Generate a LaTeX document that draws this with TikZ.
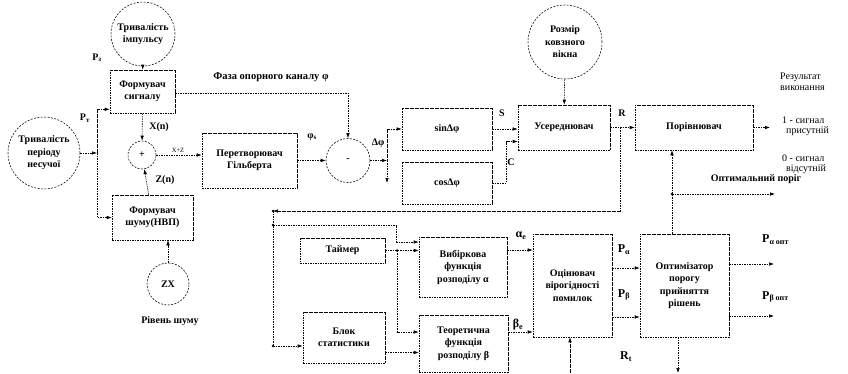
\documentclass[tikz,border=0pt]{standalone}
\usepackage{fontspec}
\setmainfont{Liberation Serif}
\usetikzlibrary{arrows.meta,calc}
\begin{document}
\begin{tikzpicture}[x=1pt,y=-1pt,
  every node/.style={font=\bfseries\fontsize{10}{12.5}\selectfont, inner sep=0pt},
  box/.style 2 args={draw, dash pattern=on 1.6pt off 0.9pt, line width=0.55pt, align=center, minimum width=#1, minimum height=#2},
  circ/.style={draw, circle, dash pattern=on 2pt off 1.4pt, line width=0.55pt, align=center, minimum size=#1},
  lbl/.style={font=\bfseries\fontsize{10}{11}\selectfont},
  big/.style={font=\bfseries\fontsize{12}{13}\selectfont},
  note/.style={font=\fontsize{10}{11}\selectfont, anchor=west},
  arr/.style={dash pattern=on 1.6pt off 0.9pt, line width=0.55pt, -{Latex[length=5pt,width=3.5pt]}},
  dot/.style={circle, fill, inner sep=0pt, minimum size=2.6pt}
]
\useasboundingbox (0,0) rectangle (848,373);

% circles
\node[circ=64pt] (imp) at (143,34) {Тривалість\\імпульсу};
\node[circ=72pt] (per) at (44,153) {Тривалість\\періоду\\несучої};
\node[circ=28pt] (sum) at (142,155) {+};
\node[circ=44pt] (sub) at (348,160.5) {-};
\node[circ=42pt] (zx) at (168,284) {ZX};
\node[circ=74pt] (win) at (565,42) {Розмір\\ковзного\\вікна};

% boxes
\node[box={65pt}{43pt}] (fs) at (142.5,91.5) {Формувач\\сигналу};
\node[box={95pt}{55pt}] (hil) at (249.5,160.5) {Перетворювач\\Гільберта};
\node[box={81pt}{45pt}] (fn) at (152.5,217.5) {Формувач\\шуму(НВП)};
\node[box={90pt}{42pt}] (sin) at (447,129) {sinΔφ};
\node[box={90pt}{42pt}] (cos) at (447,183) {cosΔφ};
\node[box={92pt}{45pt}] (avg) at (564,127.5) {Усереднювач};
\node[box={118pt}{45pt}] (cmp) at (694,127.5) {Порівнювач};
\node[box={85pt}{25pt}] (tim) at (342.5,250.5) {Таймер};
\node[box={88pt}{60pt}] (vib) at (463,267) {Вибіркова\\функція\\розподілу α};
\node[box={82pt}{51pt}] (stat) at (344,337.5) {Блок\\статистики};
\node[box={89pt}{57pt}] (teo) at (463.5,343.5) {Теоретична\\функція\\розподілу β};
\node[box={79pt}{103pt}] (est) at (572.5,285.5) {Оцінювач\\вірогідності\\помилок};
\node[box={89pt}{103pt}] (opt) at (684.5,285.5) {Оптимізатор\\порогу\\прийняття\\рішень};

% labels
\node[lbl] (lPz) at (97,58) {P\textsubscript{з}};
\node[lbl] (lPt) at (85,118) {P\textsubscript{т}};
\node[lbl] (lX) at (159,127) {X(n)};
\node[lbl] (lZ) at (165,180) {Z(n)};
\node[font=\fontsize{6.5}{7}\selectfont] (lXZ) at (178,150) {X+Z};
\node[lbl, font=\bfseries\fontsize{10.5}{11}\selectfont] (lphi) at (271,77) {Фаза опорного каналу φ};
\node[lbl] (lphis) at (312,137) {φ\textsubscript{s}};
\node[lbl] (ldphi) at (378,143) {Δφ};
\node[lbl] (lS) at (502,113) {S};
\node[lbl] (lC) at (511,162) {C};
\node[lbl] (lR) at (622,113) {R};
\node[lbl] (lnoise) at (170,321) {Рівень шуму};
\node[lbl] (lopt) at (756,179) {Оптимальний поріг};
\node[big] (la) at (521,236) {α\textsubscript{e}};
\node[big] (lb) at (518,325) {β\textsubscript{e}};
\node[big] (lPa) at (624,250) {P\textsubscript{α}};
\node[big] (lPb) at (624,295) {P\textsubscript{β}};
\node[big] (lRt) at (626,357) {R\textsubscript{t}};
\node[big, anchor=west] (lPao) at (762,240) {P\textsubscript{α опт}};
\node[big, anchor=west] (lPbo) at (762,297) {P\textsubscript{β опт}};
\node[note] (n1) at (780,77) {Результат};
\node[note] (n2) at (780,88) {виконання};
\node[note] (n3) at (782,120) {1 - сигнал};
\node[note] (n4) at (786,131) {присутній};
\node[note] (n5) at (782,158) {0 - сигнал};
\node[note] (n6) at (786,169) {відсутній};

% coordinates
\coordinate (j1) at (97,153);
\coordinate (j2) at (387,160.5);
\coordinate (j4) at (620,127.5);
\coordinate (j5) at (273,211);
\coordinate (j6) at (273,225);
\coordinate (j7) at (397,250.5);
\coordinate (j8) at (273,346);
\coordinate (ox) at (672,194);
\coordinate (oe) at (775,194);
\coordinate (ce) at (770,127.5);
\coordinate (r0) at (570,373);
\coordinate (o0) at (678,373);
\coordinate (q1) at (774,264);
\coordinate (q2) at (774,316);
\coordinate (a1) at ($(vib.east)+(0,-17)$);
\coordinate (b1) at ($(teo.east)+(0,-11.5)$);
\coordinate (p1) at ($(est.east)+(0,-17.5)$);
\coordinate (p2) at ($(est.east)+(0,31.5)$);

% connectors
\draw[arr] (imp) -- (fs);
\draw[arr] (per) -- (j1);
\draw[arr] (j1) |- ($(fs.south west)+(0,-4)$);
\draw[arr] (j1) |- (fn.west);
\draw[arr] (fs) -- (sum);
\draw[arr] (fn) -- (sum);
\draw[arr] (sum.east) -- (sum.east -| hil.west);
\draw[arr] (zx.north) -- (zx.north |- fn.south);
\draw[arr] ($(fs.east)+(0,1.5)$) -| (sub.north);
\draw[arr] (hil.east) -- (sub.west);
\draw[arr] (sub.east) -- (j2);
\draw[arr] (j2) |- (sin.west);
\draw[arr] (j2) -- (j2 |- cos.west);
\draw[arr] (sin.east) -- (sin.east -| avg.west);
\draw[arr] (cos.east) -| ($(avg.west)+(-11,14)$) -- ($(avg.west)+(0,14)$);
\draw[arr] (win) -- (avg);
\draw[arr] (avg.east) -- (cmp.west);
\draw[arr] (j4) |- (j5);
\draw[arr] (j5) |- ($(stat.west)+(0,8.5)$);
\draw[arr] (j6) -| ($(vib.west)+(-22,-25)$) -- ($(vib.west)+(0,-25)$);
\draw[arr] (tim.east) -- (tim.east -| vib.west);
\draw[arr] (j7) |- ($(teo.west)+(0,-11.5)$);
\draw[arr] ($(stat.east)+(0,15)$) -- ($(teo.west)+(0,9)$);
\draw[arr] (a1) -- (a1 -| est.west);
\draw[arr] (b1) -- (b1 -| est.west);
\draw[arr] (p1) -- (p1 -| opt.west);
\draw[arr] (p2) -- (p2 -| opt.west);
\draw[arr] (r0) -- (r0 |- est.south);
\draw[arr] (o0 |- opt.south) -- (o0);
\draw[arr] (ox |- opt.north) -- (ox |- cmp.south);
\draw[arr] (ox) -- (oe);
\draw[arr] (q1 -| opt.east) -- (q1);
\draw[arr] (q2 -| opt.east) -- (q2);
\draw[arr] (cmp.east) -- (ce);

% junction dots
\foreach \p in {j5,j6,j7,j8,ox}
  \node[dot] at (\p) {};
\end{tikzpicture}
\end{document}
